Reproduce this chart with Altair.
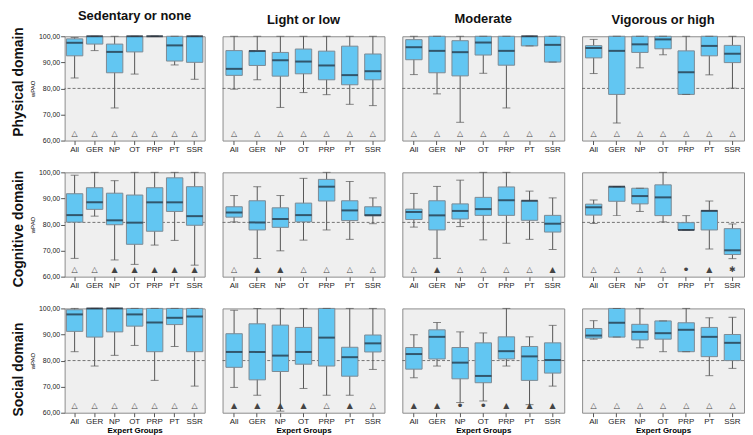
import altair as alt
import pandas as pd

GROUPS = ["All", "GER", "NP", "OT", "PRP", "PT", "SSR"]
LEVELS = ["Sedentary or none", "Light or low", "Moderate", "Vigorous or high"]
DOMAINS = ["Physical domain", "Cognitive domain", "Social domain"]
REF_LINE = [80.0, 80.8, 80.0]
Y_TICKS = [60, 70, 80, 90, 100]

# [min, q1, median, q3, max] per expert group
PHYS_SED = [[84, 92.5, 97.5, 99, 99.5], [94.5, 97, 100, 100, 100], [72.5, 86, 94, 97, 100],
            [85.5, 94, 100, 100, 100], [100, 100, 100, 100, 100], [89, 90.5, 96.5, 100, 100],
            [83.5, 90, 100, 100, 100]]
PHYS_LIGHT = [[79.7, 85, 87.5, 94.5, 100], [83.3, 88.8, 94.3, 94.5, 100], [72.7, 84.7, 90.8, 93.8, 100],
              [78.4, 85.6, 90.3, 95.1, 100], [77.6, 83.3, 88.8, 94.3, 100], [73.9, 81.4, 85.1, 96.2, 100],
              [73.4, 83.3, 86.6, 93.2, 100]]
PHYS_MOD = [[85.3, 91, 95.8, 98.7, 100], [77.9, 86, 94.4, 100, 100], [67, 84.8, 93.9, 98.3, 100],
            [85.8, 92.8, 97.6, 100, 100], [72.5, 88.9, 94.4, 100, 100], [96.3, 96.3, 100, 100, 100],
            [90.1, 90.1, 96.7, 100, 100]]
PHYS_VIG = [[85.7, 91.7, 95.5, 96.4, 98.8], [66.7, 77.7, 94.4, 100, 100], [87.9, 93.8, 96.9, 100, 100],
            [92.9, 95.2, 98.8, 100, 100], [77.7, 77.7, 86.2, 94.4, 100], [85.2, 92.5, 96.3, 100, 100],
            [80.1, 89.9, 93.3, 96.5, 100]]

COG_SED = [[67, 80.9, 83.6, 91.8, 98.9], [83.2, 85.8, 88.5, 94.1, 100], [66.4, 79.9, 81.6, 92, 96.8],
           [64.7, 72.4, 80.7, 91.3, 100], [72.1, 77.4, 88.5, 94.1, 100], [73.9, 85, 88.5, 97.9, 100],
           [64.4, 79.7, 83.2, 94.5, 100]]
COG_LIGHT = [[81, 82.8, 84.6, 86.8, 91.1], [67, 77.9, 80.8, 89.1, 94.5], [69.9, 78.9, 82.1, 86.4, 91.1],
             [74, 81, 83.6, 88.2, 97.7], [77.9, 89, 94.5, 97.3, 100], [74.3, 81.5, 85.4, 89.1, 96.5],
             [80.3, 83.3, 83.6, 86.8, 90.2]]
COG_MOD = [[79, 81.9, 84.8, 85.9, 91.9], [67, 77.9, 83.5, 89.1, 94.6], [79.2, 82.1, 85.2, 87.9, 97],
           [74.1, 83.5, 85.9, 90.4, 100], [72.8, 83.5, 89.3, 94.4, 100], [74.3, 81.6, 89.1, 89.1, 92.8],
           [70.4, 77.1, 80.3, 83.5, 90.2]]
COG_VIG = [[80.4, 83.6, 86.6, 87.8, 89.4], [83.4, 88.9, 94.5, 94.5, 94.5], [85, 87.9, 90.9, 93.9, 93.9],
           [81, 83.4, 90.4, 95.2, 100], [77.9, 77.9, 77.9, 80.7, 83.4], [70.6, 77.9, 85.2, 85.4, 89],
           [66.9, 68.5, 70.1, 78.4, 80.2]]

SOC_SED = [[83.4, 91.2, 97.7, 99.5, 100], [77.9, 89, 100, 100, 100], [82, 91, 100, 100, 100],
           [85.8, 93.2, 97.7, 100, 100], [72.4, 83.4, 94.6, 100, 100], [85.4, 93.8, 96.4, 100, 100],
           [70.2, 83.4, 96.9, 100, 100]]
SOC_LIGHT = [[69.7, 77.4, 83.3, 90.3, 99.3], [66.7, 72.6, 83.3, 94.1, 100], [60.6, 75.8, 81.9, 93.6, 100],
             [69.3, 78.6, 83.3, 92.7, 100], [66.7, 77.9, 88.8, 100, 100], [66.7, 74, 81.3, 85.1, 100],
             [76.6, 83.3, 86.6, 89.8, 100]]
SOC_MOD = [[73.4, 76.7, 82.5, 85, 89.9], [77.9, 80.6, 89.1, 91.8, 94.6], [63.9, 73, 79.2, 85, 91],
           [64.5, 71.5, 74.1, 86.8, 90.6], [77.9, 80.6, 83.6, 89.1, 100], [63.1, 72.4, 81.6, 85.4, 89.1],
           [70.2, 75.2, 80.2, 86.8, 93.5]]
SOC_VIG = [[88.2, 88.6, 89.6, 92.3, 95.3], [89, 89, 94.5, 100, 100], [84.9, 87.9, 91, 93.9, 100],
           [83.4, 88.2, 90.5, 95.2, 95.2], [83.4, 83.4, 91.8, 94.5, 100], [74.2, 81.5, 89.1, 92.7, 96.4],
           [77, 80, 86.8, 90, 96.6]]

# significance symbols below each box
SYM_PHYS_SED = ["△"] * 7
SYM_PHYS_LIGHT = ["△"] * 7
SYM_PHYS_MOD = ["△"] * 7
SYM_PHYS_VIG = ["△"] * 7
SYM_COG_SED = ["△", "△", "▲", "▲", "▲", "▲", "▲"]
SYM_COG_LIGHT = ["△", "▲", "▲", "△", "△", "△", "△"]
SYM_COG_MOD = ["△", "▲", "△", "△", "△", "△", "▲"]
SYM_COG_VIG = ["△", "△", "△", "△", "•", "▲", "✱"]
SYM_SOC_SED = ["△"] * 7
SYM_SOC_LIGHT = ["▲", "▲", "▲", "▲", "△", "▲", "△"]
SYM_SOC_MOD = ["▲", "▲", "•", "•", "▲", "▲", "▲"]
SYM_SOC_VIG = ["△"] * 7

STATS = [[PHYS_SED, PHYS_LIGHT, PHYS_MOD, PHYS_VIG],
         [COG_SED, COG_LIGHT, COG_MOD, COG_VIG],
         [SOC_SED, SOC_LIGHT, SOC_MOD, SOC_VIG]]
SYMS = [[SYM_PHYS_SED, SYM_PHYS_LIGHT, SYM_PHYS_MOD, SYM_PHYS_VIG],
        [SYM_COG_SED, SYM_COG_LIGHT, SYM_COG_MOD, SYM_COG_VIG],
        [SYM_SOC_SED, SYM_SOC_LIGHT, SYM_SOC_MOD, SYM_SOC_VIG]]

BOX_FILL = "#62c6f2"
BOX_STROKE = "#7d8a94"
WHISKER = "#555555"
MEDIAN = "#1c2733"
FONT = "Liberation Sans"


def panel(r, c):
    rows = []
    for g, s, sym in zip(GROUPS, STATS[r][c], SYMS[r][c]):
        rows.append({"group": g, "lo": s[0], "q1": s[1], "med": s[2], "q3": s[3], "hi": s[4], "sym": sym})
    df = pd.DataFrame(rows)
    base = alt.Chart(df)
    w = 141 if c == 0 else 163

    xaxis = alt.Axis(title="Expert Groups" if r == 2 else None, labelAngle=0, labelFontSize=8,
                     labelFont=FONT, labelColor="#222", tickSize=4, tickColor="#555", domain=False,
                     labelPadding=1, titleFontSize=8, titleFontWeight="bold", titleFont=FONT,
                     titlePadding=1, grid=False)
    x = alt.X("group:N", sort=GROUPS, axis=xaxis,
              scale=alt.Scale(domain=GROUPS, paddingInner=0, paddingOuter=0))
    yscale = alt.Scale(domain=[60, 100], nice=False, zero=False)
    if c == 0:
        yaxis = alt.Axis(title="wPAO", values=Y_TICKS,
                         labelExpr="replace(format(datum.value, '.2f'), '.', ',')",
                         labelFontSize=7, labelFont=FONT, labelColor="#222", tickSize=4,
                         tickColor="#555", domain=False, grid=False, titleFontSize=6,
                         titleFont=FONT, titlePadding=3, titleFontWeight="normal", labelPadding=1)
    else:
        yaxis = None

    def Y(f):
        return alt.Y(f, scale=yscale, axis=yaxis, title="wPAO")

    whisk = base.mark_rule(color=WHISKER, strokeWidth=1).encode(x=x, y=Y("lo:Q"), y2="hi:Q")
    box = base.mark_bar(size=16.5, fill=BOX_FILL, stroke=BOX_STROKE, strokeWidth=1).encode(
        x=x, y=Y("q1:Q"), y2="q3:Q")
    cap_lo = base.mark_tick(size=8, thickness=1, color=WHISKER).encode(x=x, y=Y("lo:Q"))
    cap_hi = base.mark_tick(size=8, thickness=1, color=WHISKER).encode(x=x, y=Y("hi:Q"))
    med = base.mark_tick(size=16.5, thickness=2, color=MEDIAN).encode(x=x, y=Y("med:Q"))
    sym = base.mark_text(font="DejaVu Sans", color="#444").encode(
        x=x, y=alt.YDatum(62.6, scale=yscale, axis=yaxis, title="wPAO"), text="sym:N",
        size=alt.condition("datum.sym == '•'", alt.value(13), alt.value(8)))
    ref = alt.Chart(pd.DataFrame({"v": [REF_LINE[r]]})).mark_rule(
        color="#555", strokeDash=[3, 2], strokeWidth=0.8).encode(y=Y("v:Q"))

    layer = alt.layer(ref, whisk, box, cap_lo, cap_hi, med, sym).properties(width=w, height=105)
    if r == 0:
        layer = layer.properties(title=alt.TitleParams(LEVELS[c], fontSize=13, fontWeight="bold",
                                                       font=FONT, color="#111", offset=9,
                                                       anchor="middle"))
    return layer


rows = []
for r in range(3):
    row = alt.hconcat(*[panel(r, c) for c in range(4)], spacing=16).properties(
        title=alt.TitleParams(DOMAINS[r], orient="left", fontSize=14, fontWeight="bold",
                              font=FONT, color="#111", anchor="middle", offset=3))
    rows.append(row)

chart = alt.vconcat(*rows, spacing=13).properties(
    padding={"left": 4, "top": 0, "right": 0, "bottom": 0}).configure_view(
    fill="#efefef", stroke="#8c8c8c", strokeWidth=1)

chart.save("out.html", embed_options={"renderer": "svg", "actions": False})
